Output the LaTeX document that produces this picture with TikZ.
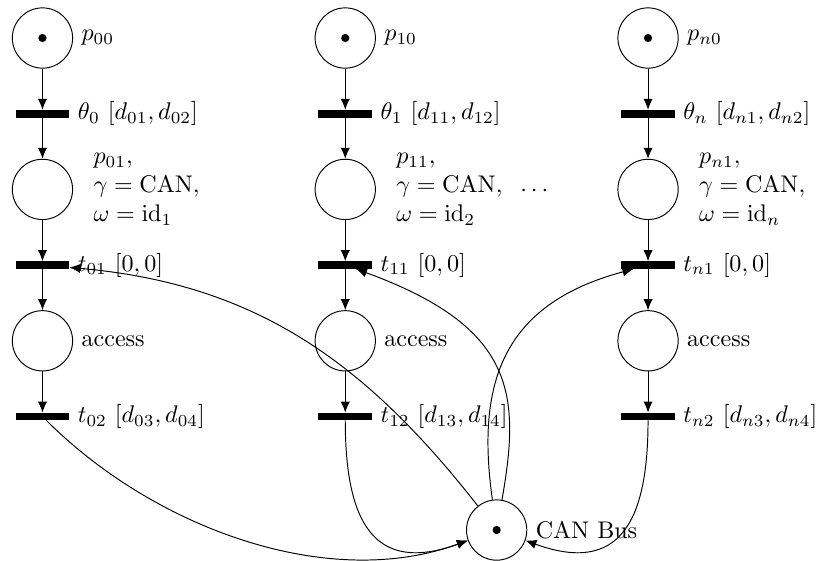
\documentclass[tikz,border=0pt]{standalone}
\usetikzlibrary{petri,arrows.meta}
\begin{document}
\begin{tikzpicture}[>={Latex[length=1.6mm,width=1.35mm]}, line join=round,
	every place/.style={minimum size=0.88cm, inner sep=0pt},
	every transition/.style={fill=black, minimum width=0.77cm, minimum height=0.1cm, inner sep=0pt},
	every token/.style={minimum size=0.12cm}]
	\def\dx{4.42} \def\dy{1.105} % column and row spacing
	\useasboundingbox (-0.62,0.555) rectangle (11.365,-7.62);
	\foreach \i/\c/\k in {0/0/1,1/1/2,n/2/n}{
		\node[place,tokens=1,label=right:$p_{\i0}$] (p\i0) at (\c*\dx,0) {};
		\node[transition,label=right:{$\theta_{\i}\ [d_{\i1},d_{\i2}]$}] (th\i) at (\c*\dx,-\dy) {};
		\node[place,label={[align=left,xshift=0.175cm]right:{$p_{\i1},$\\$\gamma=\mathrm{CAN},$\\$\omega=\mathrm{id}_{\k}$}}] (p\i1) at (\c*\dx,-2*\dy) {};
		\node[transition,label=right:{$t_{\i1}\ [0,0]$}] (t\i1) at (\c*\dx,-3*\dy) {};
		\node[place,label=right:access] (acc\i) at (\c*\dx,-4*\dy) {};
		\node[transition,label=right:{$t_{\i2}\ [d_{\i3},d_{\i4}]$}] (t\i2) at (\c*\dx,-5*\dy) {};
		\draw[->] (p\i0)--(th\i); \draw[->] (th\i)--(p\i1); \draw[->] (p\i1)--(t\i1);
		\draw[->] (t\i1)--(acc\i); \draw[->] (acc\i)--(t\i2);
	}
	\node[place,tokens=1,label=right:CAN Bus] (can) at (1.5*\dx,-6.5*\dy) {};
	\node (dots) at (7.18,-2.24) {$\cdots$};
	\draw[->] (can) to[out=128,in=-5] (t01);
	\draw[->] (can) to[out=80,in=-20,out looseness=1,in looseness=1.6] (t11);
	\draw[->] (can) to[out=98,in=195,out looseness=1.1,in looseness=1.3] (tn1);
	\draw[->] (t02) to[out=-45,in=200,looseness=0.88] (can);
	\draw[->] (t12) to[out=-90,in=200,looseness=1.5] (can);
	\draw[->] (tn2) to[out=-90,in=-20,looseness=1.5] (can);
\end{tikzpicture}
\end{document}
